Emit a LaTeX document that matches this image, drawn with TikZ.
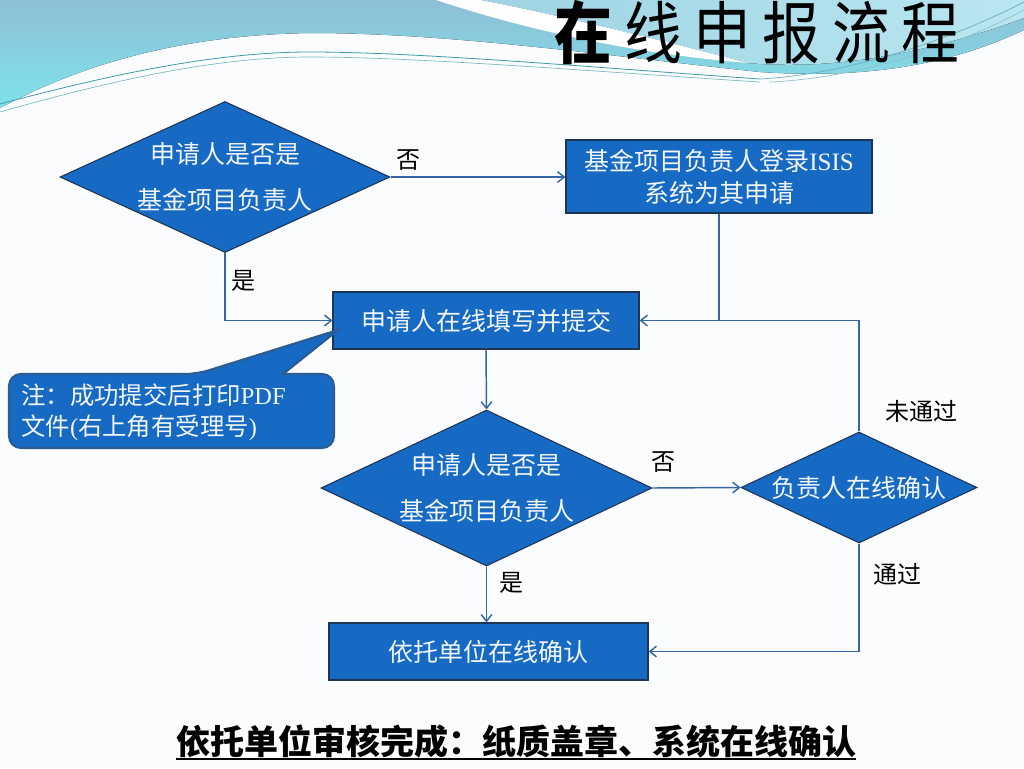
\documentclass[tikz,border=0pt]{standalone}
\usepackage{fontspec}
\setmainfont{Liberation Serif}
\newfontfamily\cjk{Noto Sans CJK SC}
\usetikzlibrary{shapes.geometric,arrows.meta}
\definecolor{boxblue}{HTML}{166AC4}
\definecolor{edgenavy}{HTML}{1E3554}
\definecolor{linkblue}{HTML}{3566A8}
\definecolor{calloutedge}{HTML}{2C5C92}
\definecolor{txtwhite}{HTML}{F2F6FB}
\definecolor{bgpaper}{HTML}{FBFCFD}
\definecolor{skytop}{HTML}{8EBFD6}
\definecolor{skybottom}{HTML}{7FE3EC}
\definecolor{skyleft}{HTML}{9ED3E3}
\definecolor{skyright}{HTML}{B9E7F0}
\definecolor{tealline}{HTML}{3E9AA6}
\newcommand{\tchar}[1]{\makebox[52pt]{\scalebox{0.85}[1]{#1}}}
\tikzset{
  flowbox/.style={draw=edgenavy, line width=0.9pt, fill=boxblue, text=txtwhite,
    inner sep=0pt, align=center, font=\cjk\fontsize{18.75pt}{24pt}\selectfont},
  decision/.style={diamond, draw=edgenavy, line width=0.8pt, fill=boxblue, text=txtwhite,
    inner sep=0pt, align=center, aspect=2.2, font=\cjk\fontsize{18.75pt}{34pt}\selectfont},
  link/.style={draw=linkblue, line width=1.1pt, -{Straight Barb[length=5pt,width=8pt]}},
  plainlink/.style={draw=linkblue, line width=1.1pt},
  lbl/.style={font=\cjk\fontsize{18pt}{20pt}\selectfont, text=black, inner sep=0pt},
  callout/.style={draw=calloutedge, line width=1.6pt, fill=boxblue},
  callouttext/.style={text=txtwhite, inner sep=0pt, align=left,
    font=\cjk\fontsize{18.3pt}{23.25pt}\selectfont},
}
\begin{document}
\begin{tikzpicture}[x=0.75pt,y=-0.75pt]
\useasboundingbox (0,0) rectangle (1024,768);
% background
\fill[bgpaper] (0,0) rectangle (1024,768);
\fill[top color=skytop, bottom color=skybottom]
  (0,0) -- (1024,0) -- (1024,30)
  .. controls (960,60) and (880,80) .. (760,72)
  .. controls (600,55) and (450,33) .. (310,33)
  .. controls (180,35) and (80,65) .. (0,108) -- cycle;
\fill[left color=skyleft, right color=skyright]
  (470,-2) .. controls (560,15) and (660,40) .. (748,63)
  .. controls (850,72) and (950,45) .. (1024,18) -- (1024,0) -- (470,0) -- cycle;
\fill[white]
  (470,-2) .. controls (560,15) and (660,40) .. (748,63)
  .. controls (650,55) and (540,35) .. (430,-2) -- cycle;
\draw[tealline, line width=0.6pt]
  (0,104) .. controls (120,72) and (220,52) .. (310,52)
  .. controls (420,52) and (600,68) .. (760,79);
\draw[tealline!70, line width=0.5pt]
  (0,112) .. controls (120,78) and (220,57) .. (310,57)
  .. controls (420,57) and (600,72) .. (760,82);
\draw[tealline!80, line width=0.5pt]
  (760,79) .. controls (850,74) and (950,40) .. (1024,2);
\draw[tealline!60, line width=0.5pt]
  (770,82) .. controls (860,78) and (960,45) .. (1024,10);
% title
\node[font=\cjk\fontsize{51pt}{51pt}\selectfont, inner sep=0pt, text=black] (title) at (757,33)
  {\tchar{\bfseries 在}\tchar{线}\tchar{申}\tchar{报}\tchar{流}\tchar{程}};
% nodes
\node[decision, minimum width=247.5pt, minimum height=113.25pt] (d1) at (225,177)
  {申请人是否是\\基金项目负责人};
\node[flowbox, minimum width=229.5pt, minimum height=54.75pt] (b1) at (719,176.5)
  {基金项目负责人登录{\rmfamily ISIS}\\系统为其申请};
\node[flowbox, minimum width=229.5pt, minimum height=42.75pt] (b2) at (486,320.5)
  {申请人在线填写并提交};
\node[decision, minimum width=248.25pt, minimum height=117pt, aspect=2.12] (d2) at (486.5,488)
  {申请人是否是\\基金项目负责人};
\node[decision, minimum width=177pt, minimum height=83.25pt, aspect=2.13] (d3) at (859,487.5)
  {负责人在线确认};
\node[flowbox, minimum width=239.25pt, minimum height=42.75pt] (b3) at (488.5,651.5)
  {依托单位在线确认};
% callout
\draw[callout] (197,374) -- (338,330) -- (283,374) [rounded corners=9pt]
  -- (334,374) -- (334,448) -- (9,448) -- (9,374) -- cycle;
\node[callouttext, anchor=west] (note) at (21,412.5)
  {注：成功提交后打印{\rmfamily PDF}\\文件{\rmfamily (}右上角有受理号{\rmfamily )}};
% connectors
\draw[link] (d1.east) -- (d1.east -| b1.west);
\draw[link] (d1.south) |- (b2.west);
\draw[plainlink] (b1.south) -- (b1.south |- b2.east);
\draw[link] (d3.north) |- (b2.east);
\draw[link] (b2.south) -- (d2.north);
\draw[link] (d2.east) -- (d3.west);
\draw[link] (d2.south) -- (d2.south |- b3.north);
\draw[link] (d3.south) |- (b3.east);
% labels
\node[lbl] (no1) at (408,160) {否};
\node[lbl] (yes1) at (243,281) {是};
\node[lbl] (no2) at (663,462) {否};
\node[lbl] (fail) at (921,411) {未通过};
\node[lbl] (pass) at (897,574) {通过};
\node[lbl] (yes2) at (511,583) {是};
% summary
\node[font=\cjk\bfseries\fontsize{25.5pt}{25.5pt}\selectfont, inner sep=0pt, text=black] (summary) at (516,741)
  {依托单位审核完成：纸质盖章、系统在线确认};
\draw[black, line width=1.3pt] ([yshift=-13.5pt]summary.west) -- ([yshift=-13.5pt]summary.east);
\end{tikzpicture}
\end{document}
